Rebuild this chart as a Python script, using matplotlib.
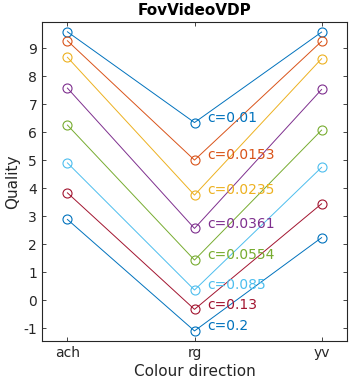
import matplotlib
matplotlib.use('Agg')
import matplotlib.pyplot as plt

plt.rcParams['axes.unicode_minus'] = False

directions = ['ach', 'rg', 'yv']
contrasts = ['0.01', '0.0153', '0.0235', '0.0361', '0.0554', '0.085', '0.13', '0.2']
q_ach = [9.58, 9.26, 8.67, 7.57, 6.25, 4.90, 3.83, 2.88]
q_rg = [6.34, 5.00, 3.75, 2.56, 1.43, 0.36, -0.33, -1.10]
q_yv = [9.57, 9.24, 8.62, 7.52, 6.07, 4.74, 3.44, 2.23]

colors = ['#0072BD', '#D95319', '#EDB120', '#7E2F8E', '#77AC30', '#4DBEEE', '#A2142F', '#0072BD']
axc = '#262626'

fig = plt.figure(figsize=(3.49, 3.84), dpi=100)
ax = fig.add_axes([42/349, 1 - 341/384, 305/349, 319/384])

xs = [1, 2, 3]
for i in range(len(contrasts)):
    ys = [q_ach[i], q_rg[i], q_yv[i]]
    ax.plot(xs, ys, '-o', color=colors[i], lw=0.7, ms=6.5, mfc='none', mew=0.8)
    # label just right of the rg point
    ax.text(2.1, q_rg[i] + 0.17, 'c=' + contrasts[i], color=colors[i], fontsize=10, va='center', ha='left')

ax.set_xlim(0.8, 3.2)
ax.set_ylim(-1.46, 9.93)
ax.set_xticks(xs)
ax.set_xticklabels(directions)
ax.set_yticks(range(-1, 10))
ax.tick_params(direction='in', top=True, right=True, labelsize=10, colors=axc, length=3, width=0.6)
for s in ax.spines.values():
    s.set_color(axc)
    s.set_linewidth(0.8)
ax.set_xlabel('Colour direction', fontsize=11, color=axc, labelpad=3)
ax.set_ylabel('Quality', fontsize=11, color=axc, labelpad=2)
ax.set_title('FovVideoVDP', fontsize=11, fontweight='bold', color='black', pad=5)

fig.savefig('out.png', dpi=100)
